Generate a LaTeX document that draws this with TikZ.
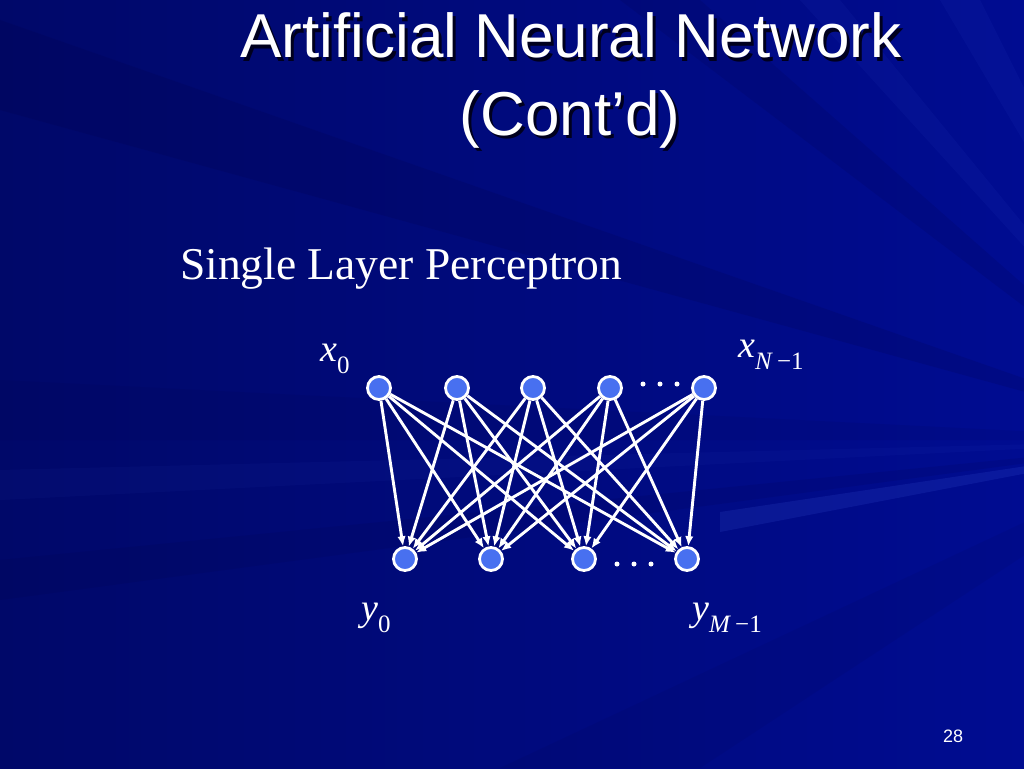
\documentclass[tikz,border=0pt]{standalone}
\usepackage{fontspec}
\setmainfont{Liberation Serif}
\newfontfamily\arialf{Liberation Sans}
\usetikzlibrary{arrows.meta}
\definecolor{bgA}{RGB}{0,8,105}
\definecolor{bgB}{RGB}{0,12,145}
\definecolor{rayL}{RGB}{90,120,255}
\definecolor{rayD}{RGB}{0,0,60}
\definecolor{neuron}{RGB}{72,112,240}
\definecolor{shadowc}{RGB}{0,0,30}
\tikzset{
  neu/.style={circle, draw=white, line width=2.8pt, fill=neuron, minimum size=23pt, inner sep=0pt},
  edge/.style={draw=white, line width=2.9pt, -{Latex[length=10pt,width=8.5pt]}},
  dotc/.style={fill=white},
  lbl/.style={text=white, inner sep=0pt, anchor=base west, font=\fontsize{38}{38}\selectfont},
  ttl/.style={text=white, inner sep=0pt, anchor=base, font=\arialf\fontsize{62}{62}\selectfont},
  ttlsh/.style={text=shadowc, inner sep=0pt, anchor=base, font=\arialf\fontsize{62}{62}\selectfont},
  ray/.style={fill=rayL, fill opacity=#1},
  dray/.style={fill=rayD, fill opacity=#1}
}
\newcommand{\subsz}[1]{\raisebox{-12pt}{\fontsize{25}{25}\selectfont #1}}
\begin{document}
\begin{tikzpicture}[x=1pt,y=-1pt]
\useasboundingbox (0,0) rectangle (1024,768);
% background
\shade[left color=bgA, right color=bgB] (0,0) rectangle (1024,768);
\begin{scope}
\clip (0,0) rectangle (1024,768);
\coordinate (C) at (1200,440);
\fill[ray=0.12] (C) -- (720,512) -- (720,532) -- cycle;
\fill[ray=0.04] (C) -- (0,470) -- (0,500) -- cycle;
\fill[ray=0.05] (C) -- (800,0) -- (840,0) -- cycle;
\fill[ray=0.05] (C) -- (940,0) -- (980,0) -- cycle;
\fill[dray=0.14] (C) -- (0,20) -- (0,110) -- cycle;
\fill[dray=0.12] (C) -- (620,0) -- (700,0) -- cycle;
\fill[dray=0.08] (C) -- (0,380) -- (0,440) -- cycle;
\fill[dray=0.1] (C) -- (0,560) -- (0,600) -- cycle;
\fill[dray=0.08] (C) -- (500,768) -- (700,768) -- cycle;
\end{scope}
% title
\node[ttlsh] (t1s) at (574,61) {Artificial Neural Network};
\node[ttl] (t1) at (571,58) {Artificial Neural Network};
\node[ttlsh] (t2s) at (573,138) {(Cont’d)};
\node[ttl] (t2) at (570,135) {(Cont’d)};
% subtitle
\node[text=white, inner sep=0pt, anchor=base west, font=\fontsize{45.5}{45.5}\selectfont] (sub) at (180,279) {Single Layer Perceptron};
% neurons
\node[neu] (x1) at (379,388) {};
\node[neu] (x2) at (457,388) {};
\node[neu] (x3) at (533,388) {};
\node[neu] (x4) at (610,388) {};
\node[neu] (x5) at (704,388) {};
\node[neu] (y1) at (405,559) {};
\node[neu] (y2) at (491,559) {};
\node[neu] (y3) at (584,559) {};
\node[neu] (y4) at (687,559) {};
% edges
\foreach \i in {1,...,5}{
  \foreach \j in {1,...,4}{
    \draw[edge] (x\i) -- (y\j);
  }
}
% dots
\foreach \xx in {643,660,677} \fill[dotc] (\xx,384) circle (2.5);
\foreach \xx in {617,634,651} \fill[dotc] (\xx,564) circle (2.5);
% labels
\node[lbl] (lx0) at (320,361) {\textit{x}\subsz{0}};
\node[lbl] (lxn) at (738,357) {\textit{x}\subsz{\textit{N}\,−1}};
\node[lbl] (ly0) at (361,620) {\textit{y}\subsz{0}};
\node[lbl] (lym) at (692,620) {\textit{y}\subsz{\textit{M}\,−1}};
% page number
\node[text=white, inner sep=0pt, anchor=base west, font=\arialf\fontsize{18}{18}\selectfont] (pg) at (943,742) {28};
\end{tikzpicture}
\end{document}
